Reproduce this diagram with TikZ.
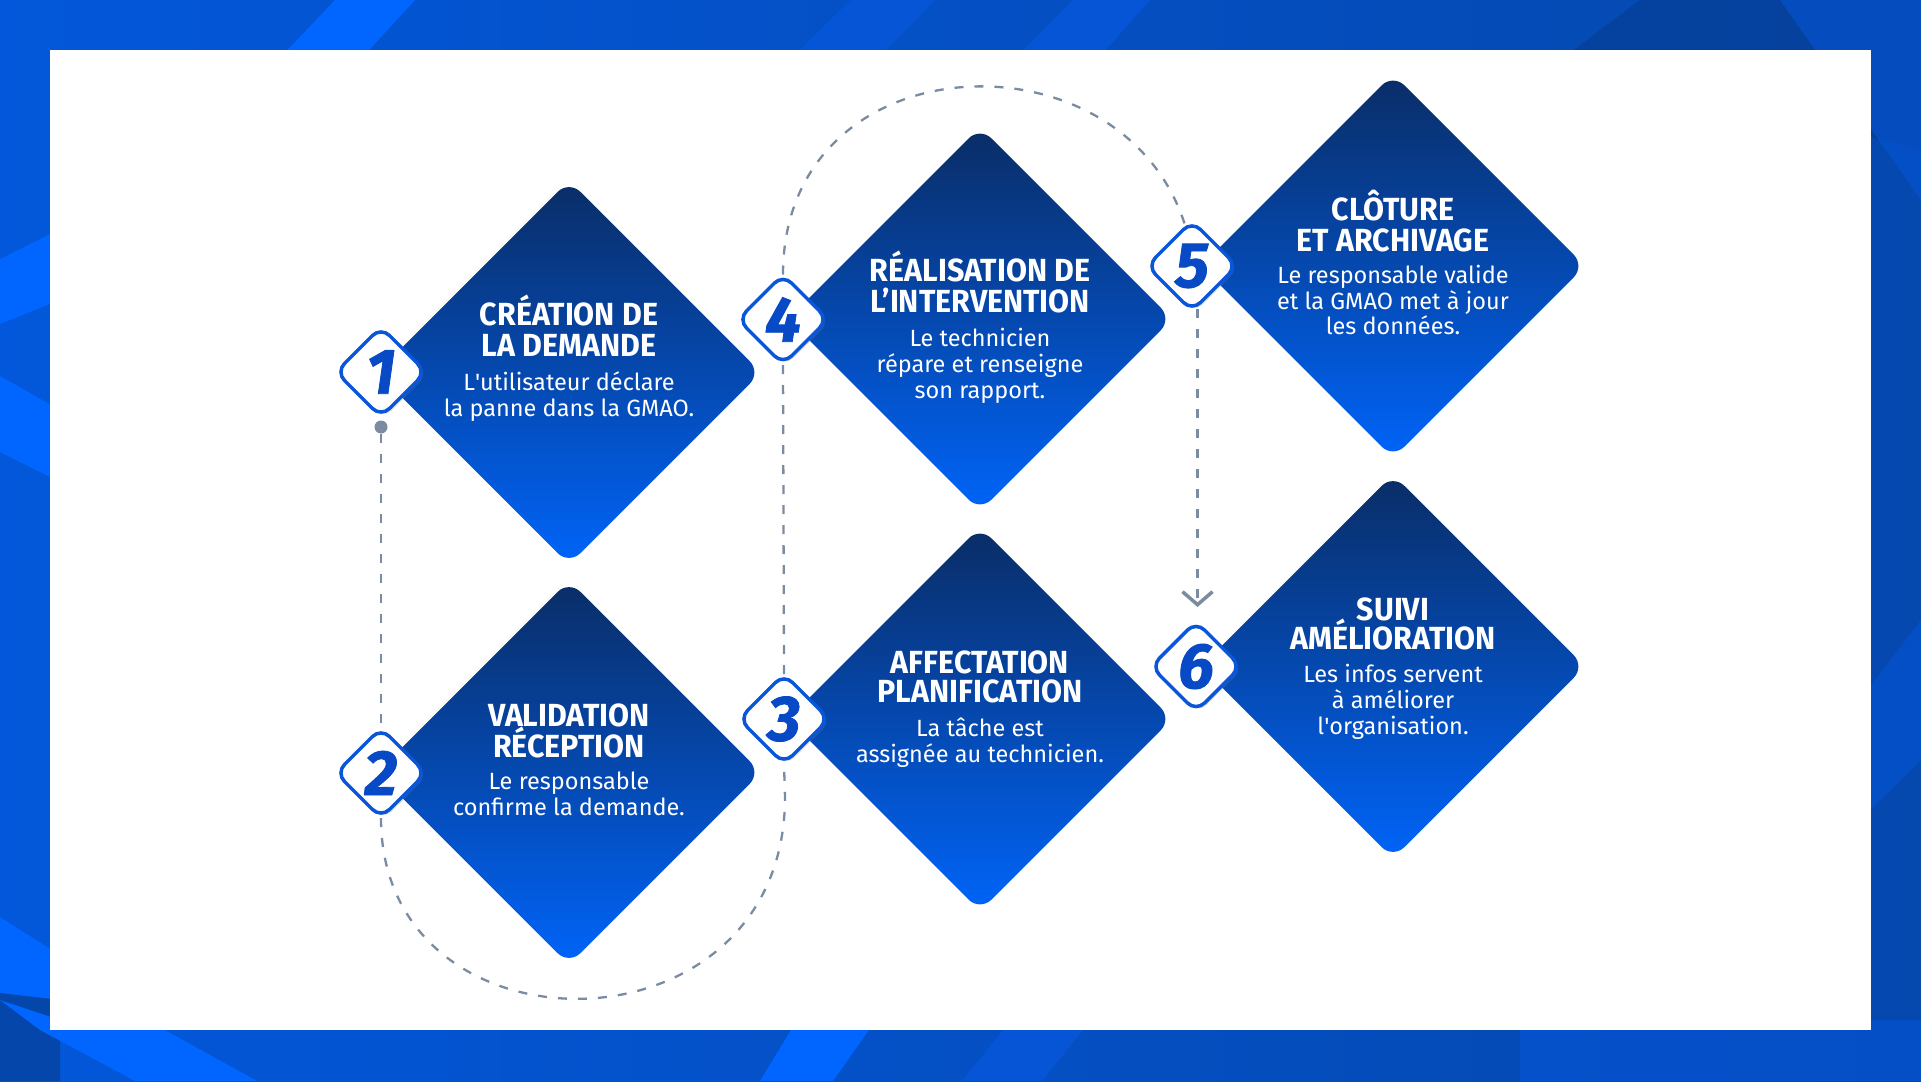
\documentclass[tikz,border=0pt]{standalone}
\usepackage{fontspec}
\setmainfont{Fira Sans}
\newfontfamily\titlefont[FakeStretch=0.95]{Fira Sans}
\newfontfamily\bodyfont{Fira Sans}
\newfontfamily\numfont[FakeBold=1.2]{Fira Sans}
\usetikzlibrary{shapes.geometric,arrows.meta,shadows}
\definecolor{bgL}{HTML}{0357DA}
\definecolor{bgM}{HTML}{063B8B}
\definecolor{bgR}{HTML}{0548AE}
\definecolor{bright}{HTML}{0066FF}
\definecolor{midstripe}{HTML}{0555D6}
\definecolor{dtop}{HTML}{0A2D66}
\definecolor{dmid}{HTML}{073E96}
\definecolor{dbot}{HTML}{0064F8}
\definecolor{dashgray}{HTML}{7B8BA2}
\definecolor{badgeblue}{HTML}{0A56DA}
\definecolor{numblue}{HTML}{0849C6}
\pgfdeclarelayer{bg}
\pgfdeclarelayer{lines}
\pgfsetlayers{bg,lines,main}
\tikzset{
  stepdiamond/.style={diamond, aspect=1, minimum width=384pt, minimum height=384pt,
    inner sep=0pt, outer sep=0pt, rounded corners=16pt,
    top color=dtop, middle color=dmid, bottom color=dbot},
  badge/.style={diamond, aspect=1, minimum width=90pt, minimum height=90pt,
    inner sep=0pt, outer sep=0pt, fill=white, draw=badgeblue, line width=3.5pt,
    rounded corners=12pt, drop shadow={shadow xshift=2pt, shadow yshift=-2pt, opacity=0.25}},
  numtext/.style={text=numblue, inner sep=0pt, font=\numfont\bfseries\itshape\fontsize{64}{64}\selectfont},
  ttl/.style={text=white, anchor=base, inner sep=0pt, font=\titlefont\bfseries\fontsize{32}{32}\selectfont},
  bdy/.style={text=white, anchor=base, inner sep=0pt, font=\bodyfont\fontsize{23.5}{23.5}\selectfont},
  dashline/.style={draw=dashgray, line width=2.3pt, dash pattern=on 9pt off 11pt},
}
\begin{document}
\begin{tikzpicture}[x=1pt,y=-1pt]
\useasboundingbox (0,0) rectangle (1921,1081);

\begin{pgfonlayer}{bg}
\shade[left color=bgL, middle color=bgM, right color=bgR] (0,0) rectangle (1921,1081);
% top stripes
\fill[bright] (335,0) -- (415,0) -- (360,60) -- (278,60) -- cycle;
\fill[midstripe] (851,0) -- (935,0) -- (877,60) -- (789,60) -- cycle;
\fill[midstripe] (1073,0) -- (1150,0) -- (1097,60) -- (1014,60) -- cycle;
\fill[bgM, opacity=0.5] (1640,0) -- (1921,0) -- (1921,150) -- (1560,60) -- cycle;
\fill[midstripe, opacity=0.6] (1780,0) -- (1921,0) -- (1921,200) -- cycle;
% left stripes
\fill[bright] (0,259) -- (60,229) -- (60,300) -- (0,324) -- cycle;
\fill[bright] (0,376) -- (60,410) -- (60,482) -- (0,452) -- cycle;
\fill[bright] (0,917) -- (60,955) -- (60,1000) -- (0,993) -- cycle;
\fill[bgM, opacity=0.6] (0,993) -- (60,1000) -- (60,1081) -- (0,1081) -- cycle;
% bottom stripes
\fill[bright] (0,1000) -- (60,1020) -- (165,1030) -- (257,1081) -- (135,1081) -- (40,1030) -- cycle;
\fill[bright] (797,1020) -- (876,1020) -- (833,1081) -- (760,1081) -- cycle;
\fill[midstripe] (1011,1020) -- (1091,1020) -- (1042,1081) -- (962,1081) -- cycle;
\fill[midstripe, opacity=0.6] (1520,1020) -- (1921,1020) -- (1921,1081) -- (1520,1081) -- cycle;
% right stripes
\fill[midstripe, opacity=0.6] (1860,700) -- (1921,620) -- (1921,760) -- (1860,820) -- cycle;
% panel
\fill[white] (50,50) rectangle (1871,1030);
\end{pgfonlayer}

% diamonds
\node[stepdiamond] (d1) at (569,372.5) {};
\node[stepdiamond] (d2) at (569,772.5) {};
\node[stepdiamond] (d3) at (980,719) {};
\node[stepdiamond] (d4) at (980,319) {};
\node[stepdiamond] (d5) at (1393,266) {};
\node[stepdiamond] (d6) at (1393,666.5) {};

% texts
\node[ttl] (t1a) at (569,325) {CRÉATION DE};
\node[ttl] (t1b) at (569,356) {LA DEMANDE};
\node[bdy] (s1a) at (569,390) {L\textquotesingle utilisateur déclare};
\node[bdy] (s1b) at (569,416) {la panne dans la GMAO.};

\node[ttl] (t2a) at (569,726) {VALIDATION};
\node[ttl] (t2b) at (569,757) {RÉCEPTION};
\node[bdy] (s2a) at (569,789) {Le responsable};
\node[bdy] (s2b) at (569,815) {confirme la demande.};

\node[ttl] (t3a) at (980,673) {AFFECTATION};
\node[ttl] (t3b) at (980,702) {PLANIFICATION};
\node[bdy] (s3a) at (980,736) {La tâche est};
\node[bdy] (s3b) at (980,762) {assignée au technicien.};

\node[ttl] (t4a) at (980,281) {RÉALISATION DE};
\node[ttl] (t4b) at (980,312) {L’INTERVENTION};
\node[bdy] (s4a) at (980,346) {Le technicien};
\node[bdy] (s4b) at (980,372) {répare et renseigne};
\node[bdy] (s4c) at (980,398) {son rapport.};

\node[ttl] (t5a) at (1393,220.5) {CLÔTURE};
\node[ttl] (t5b) at (1393,251) {ET ARCHIVAGE};
\node[bdy] (s5a) at (1393,283) {Le responsable valide};
\node[bdy] (s5b) at (1393,309) {et la GMAO met à jour};
\node[bdy] (s5c) at (1393,334.5) {les données.};

\node[ttl] (t6a) at (1393,620) {SUIVI};
\node[ttl] (t6b) at (1393,649) {AMÉLIORATION};
\node[bdy] (s6a) at (1393,682) {Les infos servent};
\node[bdy] (s6b) at (1393,708) {à améliorer};
\node[bdy] (s6c) at (1393,734) {l\textquotesingle organisation.};

% badges
\node[badge] (b1) at (381,372) {};
\node[badge] (b2) at (381,773) {};
\node[badge] (b3) at (784,719) {};
\node[badge] (b4) at (783,319.5) {};
\node[badge] (b5) at (1192,266) {};
\node[badge] (b6) at (1196,666.5) {};
\node[numtext] (n1) at (b1) {1};
\node[numtext] (n2) at (b2) {2};
\node[numtext] (n3) at (b3) {3};
\node[numtext] (n4) at (b4) {4};
\node[numtext] (n5) at (b5) {5};
\node[numtext] (n6) at (b6) {6};

% dot
\node[circle, fill=dashgray, minimum size=13pt, inner sep=0pt] (dot1) at (381,427) {};

% connector anchors
\coordinate (c23) at (785,797);
\coordinate (c45) at (1195,293);
\coordinate (a5) at (1197.5,309);
\coordinate (a6) at (1197.5,607);

\begin{pgfonlayer}{lines}
\draw[dashline] (dot1) -- (b2.north);
\draw[dashline] (b2.south) .. controls +(0,245) and +(0,265) .. (c23) -- (b3.south);
\draw[dashline] (b3.north) -- (b4.south);
\draw[dashline] (b4.north) .. controls +(0,-258) and +(0,-268) .. (c45);
\draw[dashline, -{Straight Barb[length=13pt, width=30pt, line width=3.5pt]}] (a5) -- (a6);
\end{pgfonlayer}
\end{tikzpicture}
\end{document}
